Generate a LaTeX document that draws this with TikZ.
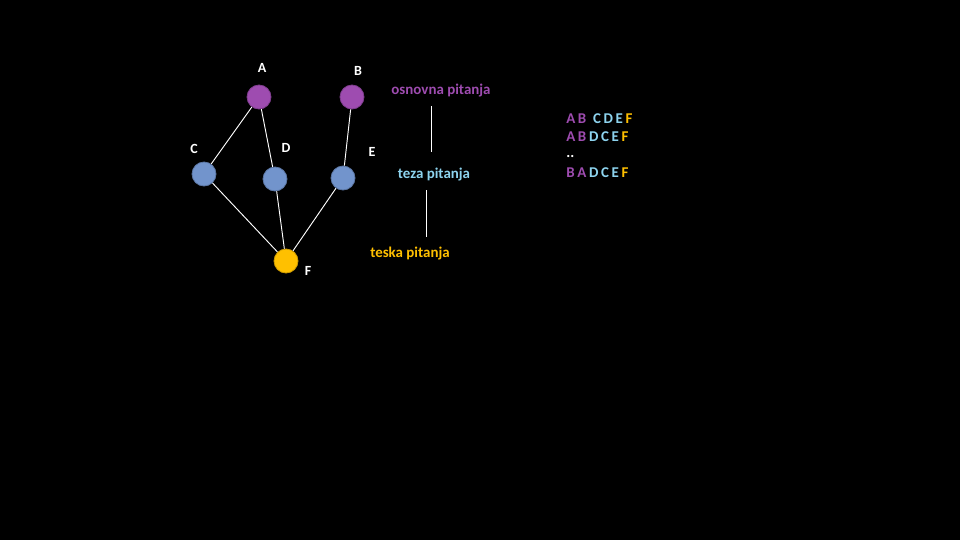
\documentclass[tikz,border=0pt]{standalone}
\usepackage{fontspec}
\setmainfont{Carlito}
\definecolor{pur}{HTML}{9E4CB0}
\definecolor{nblue}{HTML}{7294CC}
\definecolor{lblue}{HTML}{8DD3EE}
\definecolor{gold}{HTML}{FFC000}
\begin{document}
\begin{tikzpicture}[x=0.75pt,y=-0.75pt,
  dot/.style={circle,minimum size=18pt,inner sep=0pt,draw=#1!80!black,line width=0.6pt,fill=#1},
  lab/.style={text=white,font=\bfseries\fontsize{10.5}{12}\selectfont,inner sep=0pt},
  txt/.style={font=\bfseries\fontsize{11.2}{12}\selectfont,inner sep=0pt},
  edge/.style={draw=white,line width=0.7pt}]
\fill[black] (0,0) rectangle (960,540);
\useasboundingbox (0,0) rectangle (960,540);
\node[dot=pur] (A) at (259,97) {};
\node[dot=pur] (B) at (352,97) {};
\node[dot=nblue] (C) at (204,174) {};
\node[dot=nblue] (D) at (275,179) {};
\node[dot=nblue] (E) at (343,178) {};
\node[dot=gold] (F) at (286,261) {};
\node[lab] (la) at (262,68) {A};
\node[lab] (lb) at (358,71) {B};
\node[lab] (lc) at (194,149) {C};
\node[lab] (ld) at (286,148) {D};
\node[lab] (le) at (372,152) {E};
\node[lab] (lf) at (308,271) {F};
\draw[edge] (A) -- (C);
\draw[edge] (A) -- (D);
\draw[edge] (B) -- (E);
\draw[edge] (C) -- (F);
\draw[edge] (D) -- (F);
\draw[edge] (E) -- (F);
\node[txt,text=pur] (t1) at (441,91) {osnovna pitanja};
\node[txt,text=lblue] (t2) at (434,175) {teza pitanja};
\node[txt,text=gold] (t3) at (410,254) {teska pitanja};
\coordinate (p1) at (431,106);
\coordinate (p2) at (431,152);
\coordinate (p3) at (426,190);
\coordinate (p4) at (426,237);
\draw[edge] (p1) -- (p2);
\draw[edge] (p3) -- (p4);
\node[txt,anchor=west] (r1) at (566,119) {\textcolor{pur}{A\hspace{2pt}B}\hspace{5pt}\textcolor{lblue}{C\hspace{2pt}D\hspace{2pt}E}\hspace{2pt}\textcolor{gold}{F}};
\node[txt,anchor=west] (r2) at (566,137) {\textcolor{pur}{A\hspace{2pt}B}\hspace{2pt}\textcolor{lblue}{D\hspace{2pt}C\hspace{2pt}E}\hspace{2pt}\textcolor{gold}{F}};
\node[txt,anchor=west,text=white] (r3) at (566,156) {..};
\node[txt,anchor=west] (r4) at (566,173) {\textcolor{pur}{B\hspace{2pt}A}\hspace{2pt}\textcolor{lblue}{D\hspace{2pt}C\hspace{2pt}E}\hspace{2pt}\textcolor{gold}{F}};
\end{tikzpicture}
\end{document}
